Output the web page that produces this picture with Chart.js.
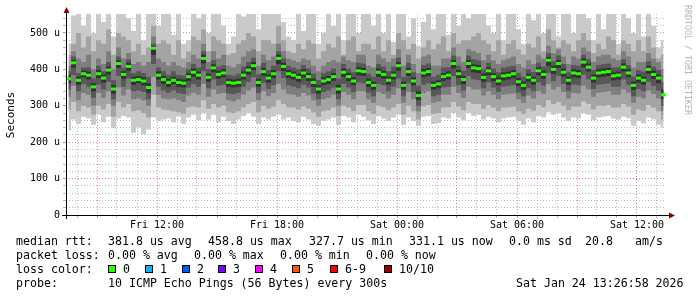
<!DOCTYPE html>
<html>
<head>
<meta charset="utf-8">
<script src="https://cdn.jsdelivr.net/npm/chart.js@4.4.1/dist/chart.umd.min.js"></script>
<style>
  html, body { margin: 0; padding: 0; background: #ffffff; }
  #wrap { width: 697px; height: 297px; }
</style>
</head>
<body>
<div id="wrap"><canvas id="smoke" width="697" height="297"></canvas></div>
<script>
// time axis: hours since Fri 00:00, one value every 15 minutes
const startHour = 7.45;
const endHour = 37.45;
const stepHours = 0.25;

const xGridHours = [8, 9, 10, 11, 12, 13, 14, 15, 16, 17, 18, 19, 20, 21, 22, 23, 24, 25, 26, 27, 28, 29, 30, 31, 32, 33, 34, 35, 36, 37];
const xTickHours = [12, 18, 24, 30, 36];
const xTickLabels = ['Fri 12:00', 'Fri 18:00', 'Sat 00:00', 'Sat 06:00', 'Sat 12:00'];
const yTickValues = [0, 100, 200, 300, 400, 500];
const yTickLabels = ['0', '100 u', '200 u', '300 u', '400 u', '500 u'];

// median rtt (us)
const median = [
  374, 418, 370, 388, 384, 352, 388, 376, 398, 346, 416, 386, 408, 370, 372, 368, 350, 458, 384, 372,
  364, 370, 364, 362, 380, 392, 384, 430, 378, 404, 386, 390, 364, 362, 364, 384, 398, 410, 364, 394,
  376, 388, 430, 408, 388, 384, 378, 390, 380, 364, 346, 368, 372, 380, 346, 392, 380, 368, 396, 394,
  364, 356, 392, 386, 370, 384, 410, 356, 394, 368, 328, 390, 394, 356, 360, 380, 384, 416, 388, 372,
  416, 404, 402, 378, 396, 380, 368, 382, 384, 388, 366, 356, 378, 370, 396, 386, 425, 400, 416, 392,
  370, 390, 388, 420, 406, 376, 390, 392, 394, 382, 384, 406, 390, 356, 376, 370, 400, 386, 376, 330
];

// smoke: sorted pings, outer pair (ping 1 / ping 10) to inner pair (ping 5 / ping 6)
const hi1 = [
  470, 548, 560, 520, 560, 500, 560, 530, 560, 490, 560, 560, 540, 505, 560, 480, 560, 560, 520, 560,
  560, 495, 560, 470, 480, 560, 540, 560, 500, 560, 560, 520, 470, 490, 560, 545, 560, 560, 510, 560,
  560, 560, 560, 530, 490, 480, 560, 505, 560, 560, 470, 500, 560, 520, 560, 480, 560, 560, 500, 560,
  560, 520, 560, 500, 560, 475, 560, 560, 490, 540, 465, 530, 560, 510, 560, 560, 495, 560, 520, 560,
  540, 560, 560, 560, 520, 500, 560, 480, 560, 560, 510, 470, 560, 535, 560, 500, 560, 560, 490, 560,
  560, 500, 560, 560, 540, 480, 560, 510, 560, 560, 470, 560, 540, 500, 560, 490, 560, 520, 460, 480
];
const lo1 = [
  232, 262, 250, 270, 265, 248, 275, 255, 270, 238, 265, 272, 268, 226, 240, 222, 235, 268, 258, 262,
  265, 255, 270, 250, 268, 275, 260, 280, 262, 275, 255, 270, 258, 250, 262, 272, 280, 270, 250, 268,
  262, 270, 275, 262, 268, 258, 255, 270, 262, 250, 245, 258, 262, 268, 248, 272, 268, 255, 275, 270,
  260, 250, 272, 265, 258, 268, 275, 248, 268, 258, 245, 270, 272, 250, 252, 268, 265, 280, 268, 260,
  280, 272, 275, 262, 270, 265, 255, 265, 268, 270, 258, 248, 265, 255, 272, 268, 282, 275, 280, 268,
  258, 268, 265, 280, 275, 260, 268, 270, 272, 265, 262, 270, 266, 245, 258, 252, 268, 262, 248, 240
];
const hi2 = [
  440, 470, 500, 460, 490, 450, 480, 470, 510, 440, 500, 490, 480, 450, 470, 440, 460, 520, 470, 480,
  470, 440, 480, 430, 450, 490, 480, 510, 450, 490, 480, 470, 440, 445, 470, 480, 500, 490, 450, 480,
  480, 470, 520, 480, 450, 445, 470, 455, 480, 470, 430, 450, 470, 460, 490, 440, 480, 490, 450, 470,
  470, 455, 490, 450, 480, 440, 500, 480, 455, 470, 430, 460, 480, 455, 470, 490, 450, 500, 470, 480,
  480, 490, 500, 480, 470, 450, 480, 440, 470, 480, 455, 440, 470, 460, 490, 450, 510, 480, 460, 480,
  470, 450, 480, 500, 480, 445, 470, 455, 490, 480, 440, 480, 470, 450, 480, 450, 490, 460, 430, 440
];
const lo2 = [
  290, 310, 285, 300, 295, 275, 300, 290, 305, 270, 310, 295, 305, 285, 288, 280, 268, 330, 295, 290,
  288, 285, 282, 278, 295, 298, 295, 315, 292, 305, 295, 300, 282, 280, 285, 295, 305, 310, 282, 300,
  292, 298, 315, 305, 296, 295, 290, 298, 292, 282, 270, 285, 288, 295, 272, 300, 295, 285, 302, 302,
  285, 278, 300, 296, 288, 295, 305, 276, 300, 285, 262, 298, 302, 278, 280, 295, 296, 310, 298, 288,
  310, 305, 305, 292, 302, 295, 285, 295, 296, 298, 285, 278, 292, 286, 302, 296, 315, 305, 310, 300,
  288, 298, 298, 312, 305, 290, 300, 300, 302, 295, 295, 305, 298, 275, 290, 286, 302, 295, 285, 262
];
const hi3 = [
  410, 450, 430, 420, 440, 400, 430, 415, 450, 400, 460, 430, 445, 415, 420, 410, 420, 490, 430, 420,
  410, 420, 410, 405, 420, 440, 430, 470, 420, 450, 430, 440, 410, 405, 415, 435, 450, 455, 410, 440,
  425, 435, 470, 450, 430, 425, 420, 430, 425, 410, 395, 410, 420, 425, 420, 435, 425, 420, 440, 440,
  410, 405, 440, 430, 420, 430, 455, 410, 440, 415, 390, 435, 440, 410, 410, 430, 430, 460, 435, 420,
  455, 450, 445, 425, 440, 425, 415, 425, 430, 435, 415, 405, 425, 415, 440, 430, 465, 445, 455, 435,
  415, 435, 430, 460, 450, 420, 435, 440, 440, 430, 425, 450, 435, 405, 420, 420, 445, 430, 420, 400
];
const lo3 = [
  325, 355, 315, 335, 330, 300, 335, 322, 340, 300, 350, 328, 345, 318, 320, 315, 300, 380, 330, 320,
  318, 320, 315, 310, 328, 335, 330, 360, 325, 345, 332, 335, 315, 312, 318, 330, 342, 350, 315, 340,
  326, 335, 360, 345, 332, 330, 325, 335, 328, 315, 300, 318, 322, 330, 300, 338, 330, 318, 340, 340,
  318, 308, 338, 332, 320, 330, 348, 308, 338, 318, 285, 335, 340, 308, 312, 330, 330, 352, 335, 322,
  352, 345, 345, 328, 340, 330, 318, 330, 332, 334, 318, 308, 328, 320, 340, 332, 360, 345, 352, 338,
  320, 335, 334, 355, 345, 325, 336, 338, 340, 330, 330, 345, 336, 308, 325, 320, 342, 332, 320, 285
];
const hi4 = [
  395, 435, 390, 405, 405, 375, 410, 395, 420, 370, 435, 405, 428, 390, 395, 390, 380, 470, 405, 395,
  385, 395, 385, 383, 400, 415, 405, 450, 400, 425, 408, 412, 385, 383, 388, 408, 420, 432, 386, 418,
  398, 410, 450, 430, 410, 405, 400, 412, 402, 388, 370, 390, 395, 402, 375, 415, 402, 392, 418, 416,
  388, 380, 415, 408, 395, 408, 432, 380, 418, 392, 355, 412, 416, 380, 385, 405, 406, 438, 410, 396,
  438, 428, 425, 400, 418, 402, 392, 405, 408, 410, 390, 380, 400, 393, 418, 408, 445, 422, 438, 415,
  392, 412, 410, 440, 428, 398, 412, 415, 416, 405, 406, 428, 412, 380, 398, 394, 422, 408, 398, 365
];
const lo4 = [
  345, 385, 340, 360, 352, 322, 358, 345, 365, 318, 382, 352, 375, 340, 342, 338, 318, 415, 352, 342,
  336, 342, 335, 332, 350, 360, 352, 395, 348, 372, 355, 358, 334, 332, 336, 352, 365, 378, 335, 362,
  346, 356, 395, 376, 356, 352, 348, 358, 350, 334, 318, 338, 342, 350, 318, 360, 350, 338, 364, 362,
  336, 326, 360, 356, 340, 352, 375, 326, 362, 338, 300, 358, 362, 326, 330, 350, 352, 382, 356, 342,
  382, 372, 370, 348, 364, 350, 338, 352, 354, 356, 336, 326, 348, 340, 364, 355, 390, 368, 382, 360,
  340, 358, 356, 385, 372, 346, 358, 360, 362, 352, 352, 372, 358, 326, 346, 340, 366, 354, 342, 300
];
const hi5 = [
  384, 426, 380, 396, 394, 362, 398, 385, 408, 356, 425, 395, 418, 380, 382, 378, 362, 464, 394, 382,
  374, 380, 374, 372, 390, 402, 394, 440, 388, 414, 396, 400, 374, 372, 374, 394, 408, 420, 374, 404,
  386, 398, 440, 418, 398, 394, 388, 400, 390, 374, 356, 378, 382, 390, 358, 402, 390, 378, 406, 404,
  374, 366, 402, 396, 380, 394, 420, 366, 404, 378, 340, 400, 404, 366, 370, 390, 394, 426, 398, 382,
  426, 414, 412, 388, 406, 390, 378, 392, 394, 398, 376, 366, 388, 380, 406, 396, 434, 410, 426, 402,
  380, 400, 398, 430, 416, 386, 400, 402, 404, 392, 394, 416, 400, 366, 386, 380, 410, 396, 386, 345
];
const lo5 = [
  362, 405, 358, 378, 372, 340, 376, 364, 386, 334, 404, 374, 396, 358, 362, 356, 336, 440, 372, 360,
  352, 360, 352, 350, 368, 380, 372, 416, 366, 392, 374, 378, 352, 350, 352, 372, 386, 398, 352, 382,
  364, 376, 415, 396, 376, 372, 366, 378, 368, 352, 334, 356, 360, 368, 334, 380, 368, 356, 384, 382,
  352, 344, 380, 374, 358, 372, 396, 344, 382, 356, 316, 378, 382, 344, 348, 368, 372, 402, 376, 360,
  404, 392, 390, 366, 384, 368, 356, 370, 372, 376, 354, 344, 366, 358, 384, 374, 410, 388, 404, 380,
  358, 378, 376, 406, 394, 364, 378, 380, 382, 370, 372, 394, 378, 344, 364, 358, 388, 374, 362, 318
];

const smokeColors = ['#cacaca', '#a4a4a4', '#7e7e7e', '#585858', '#323232'];
const lossNames = ['0', '1', '2', '3', '4', '5', '6-9', '10/10'];
const lossColors = ['#26ff00', '#00b8ff', '#0059ff', '#7e00ff', '#ff00ff', '#ff5500', '#ff0000', '#a10000'];

const gridMinor = 'rgba(140,140,140,0.6)';
const gridMajor = 'rgba(215,90,90,0.75)';

function points(arr) {
    return arr.map((v, i) => ({ x: startHour + (i + 0.5) * stepHours, y: v }));
}

const datasets = [];
const bands = [[lo1, hi1], [lo2, hi2], [lo3, hi3], [lo4, hi4], [lo5, hi5]];
bands.forEach((band, k) => {
    const common = {
        type: 'line',
        stepped: 'middle',
        pointRadius: 0,
        borderWidth: 1,
        borderColor: 'rgba(0,0,0,0)',
        order: 20 - 2 * k
    };
    datasets.push(Object.assign({ data: points(band[0]), fill: false }, common));
    datasets.push(Object.assign({ data: points(band[1]), fill: '-1', backgroundColor: smokeColors[k] }, common));
});
datasets.push({
    type: 'line',
    data: points(median),
    showLine: false,
    pointStyle: 'line',
    pointRadius: 2.5,
    pointBorderWidth: 3,
    pointBorderColor: lossColors[0],
    order: 0
});

const legendLines = [
    { y: 241.5, parts: [[16, 'median rtt:'], [108, '381.8 us avg'], [208, '458.8 us max'], [309, '327.7 us min'],
        [409, '331.1 us now'], [509, '0.0 ms sd'], [585, '20.8'], [635, 'am/s']] },
    { y: 255.5, parts: [[16, 'packet loss:'], [108, '0.00 % avg'], [194, '0.00 % max'], [280, '0.00 % min'], [366, '0.00 % now']] },
    { y: 269.5, parts: [[16, 'loss color:']] },
    { y: 283.5, parts: [[16, 'probe:'], [108, '10 ICMP Echo Pings (56 Bytes) every 300s'], [516, 'Sat Jan 24 13:26:58 2026']] }
];
const lossSquareX = [108, 145, 182, 218, 255, 292, 330, 384];

const decorations = {
    id: 'decorations',
    afterDraw(chart) {
        const ctx = chart.ctx;
        const area = chart.chartArea;
        ctx.save();

        // axes
        ctx.strokeStyle = '#000000';
        ctx.lineWidth = 1;
        ctx.beginPath();
        ctx.moveTo(62, area.bottom + 0.5);
        ctx.lineTo(671, area.bottom + 0.5);
        ctx.moveTo(area.left + 0.5, area.bottom + 4);
        ctx.lineTo(area.left + 0.5, 10);
        ctx.stroke();
        ctx.fillStyle = '#7f0000';
        ctx.beginPath();
        ctx.moveTo(area.left - 2.5, 13);
        ctx.lineTo(area.left + 3.5, 13);
        ctx.lineTo(area.left + 0.5, 7);
        ctx.closePath();
        ctx.fill();
        ctx.beginPath();
        ctx.moveTo(669, area.bottom - 2.5);
        ctx.lineTo(669, area.bottom + 3.5);
        ctx.lineTo(675, area.bottom + 0.5);
        ctx.closePath();
        ctx.fill();

        // y axis title
        ctx.fillStyle = '#000000';
        ctx.font = '11px "DejaVu Sans Mono"';
        ctx.textAlign = 'center';
        ctx.textBaseline = 'middle';
        ctx.save();
        ctx.translate(11, 115);
        ctx.rotate(-Math.PI / 2);
        ctx.fillText('Seconds', 0, 0);
        ctx.restore();

        // watermark
        ctx.save();
        ctx.fillStyle = '#b4b4b4';
        ctx.font = '8.3px "DejaVu Sans Mono"';
        ctx.textAlign = 'left';
        ctx.translate(687, 5);
        ctx.rotate(Math.PI / 2);
        ctx.fillText('RRDTOOL / TOBI OETIKER', 0, 0);
        ctx.restore();

        // legend text
        ctx.font = '11.6px "DejaVu Sans Mono"';
        ctx.textAlign = 'left';
        ctx.textBaseline = 'middle';
        ctx.fillStyle = '#000000';
        legendLines.forEach(line => {
            line.parts.forEach(p => ctx.fillText(p[1], p[0], line.y));
        });
        lossNames.forEach((name, i) => {
            const x = lossSquareX[i];
            ctx.fillStyle = lossColors[i];
            ctx.fillRect(x, 265, 8, 8);
            ctx.strokeStyle = '#000000';
            ctx.strokeRect(x + 0.5, 265.5, 7, 7);
            ctx.fillStyle = '#000000';
            ctx.fillText(name, x + 15, 269.5);
        });
        ctx.restore();
    }
};

Chart.defaults.font.family = '"DejaVu Sans Mono"';
Chart.defaults.color = '#000000';

new Chart(document.getElementById('smoke').getContext('2d'), {
    type: 'line',
    data: { datasets: datasets },
    options: {
        responsive: false,
        devicePixelRatio: 1,
        animation: false,
        events: [],
        layout: { padding: { top: 14, right: 31, left: 0, bottom: 0 } },
        plugins: {
            legend: { display: false },
            tooltip: { enabled: false },
            filler: { propagate: false }
        },
        scales: {
            x: {
                type: 'linear',
                min: startHour,
                max: endHour,
                z: 1,
                afterFit(scale) { scale.height = 82; },
                afterBuildTicks(scale) { scale.ticks = xGridHours.map(h => ({ value: h })); },
                border: { display: false, dash: [1, 2] },
                grid: {
                    color: c => (c.tick && c.tick.value % 3 === 0) ? gridMajor : gridMinor,
                    tickColor: c => (c.tick && c.tick.value % 3 === 0) ? gridMajor : gridMinor,
                    tickLength: 3
                },
                ticks: {
                    autoSkip: false,
                    maxRotation: 0,
                    padding: 1,
                    font: { size: 10 },
                    callback: v => {
                        const i = xTickHours.indexOf(v);
                        return i >= 0 ? xTickLabels[i] : '';
                    }
                }
            },
            y: {
                type: 'linear',
                min: 0,
                max: 552,
                z: 1,
                afterFit(scale) { scale.width = 66; },
                border: { display: false, dash: [1, 2] },
                grid: {
                    color: c => (c.tick && c.tick.value % 100 === 0) ? gridMajor : gridMinor,
                    tickColor: c => (c.tick && c.tick.value % 100 === 0) ? gridMajor : gridMinor,
                    tickLength: 3
                },
                ticks: {
                    stepSize: 20,
                    includeBounds: false,
                    autoSkip: false,
                    padding: 3,
                    font: { size: 10 },
                    callback: v => {
                        const i = yTickValues.indexOf(v);
                        return i >= 0 ? yTickLabels[i] : '';
                    }
                }
            }
        }
    },
    plugins: [decorations]
});
</script>
</body>
</html>
